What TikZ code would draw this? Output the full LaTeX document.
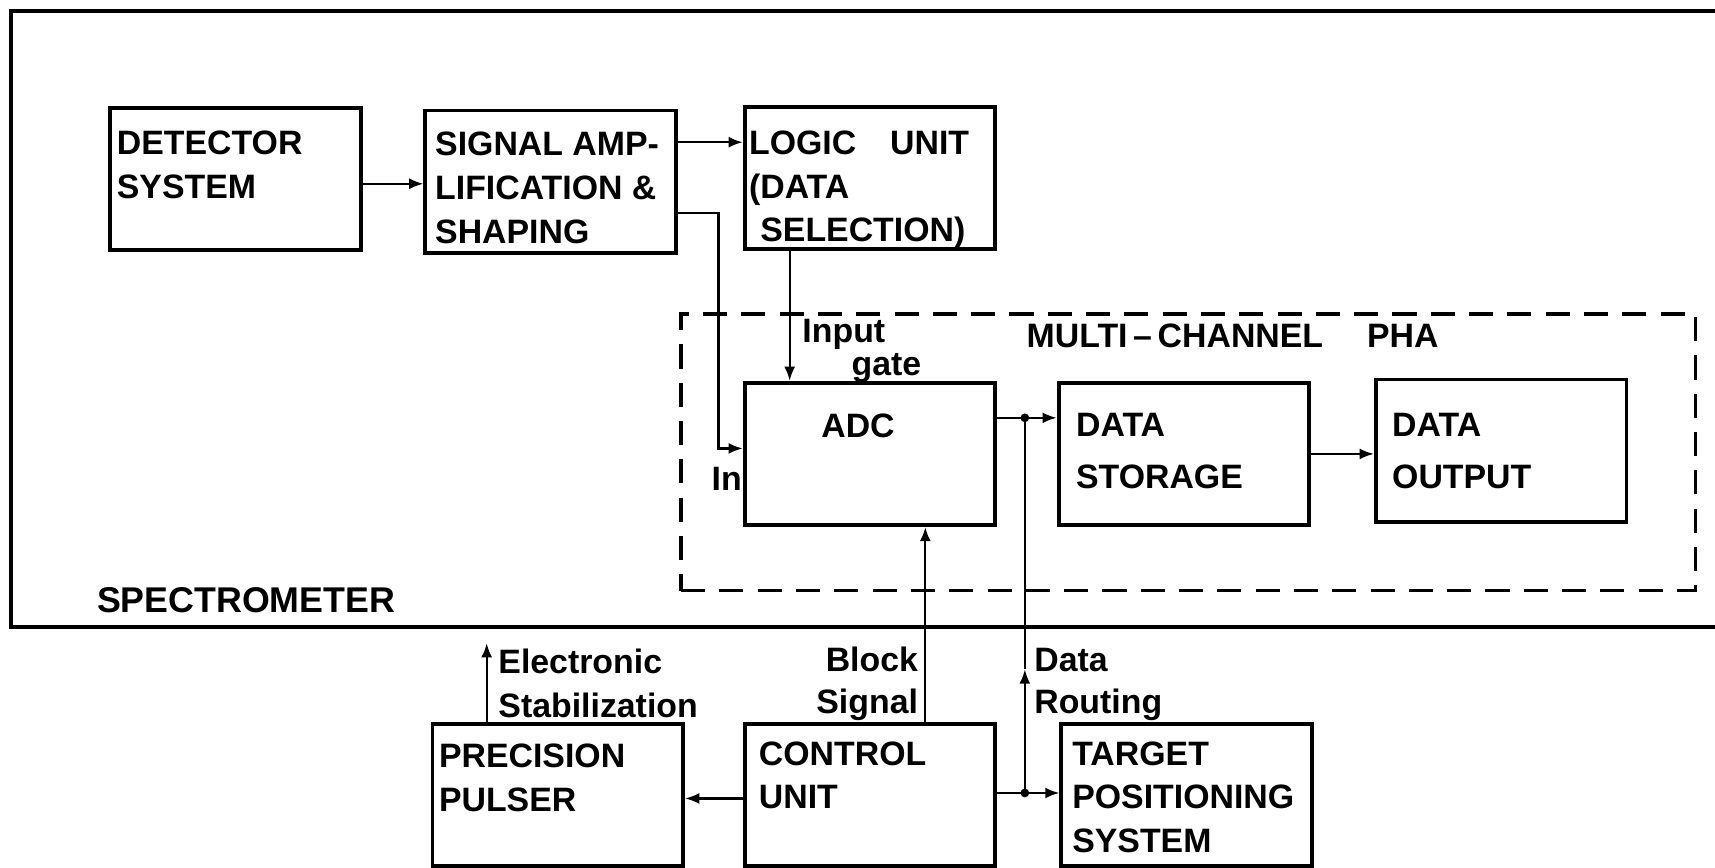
\documentclass[tikz,border=0pt]{standalone}
\usepackage{fontspec}
\setmainfont{Liberation Sans}
\usetikzlibrary{arrows.meta,positioning}
\tikzset{
  box/.style={draw, line width=1pt, minimum width=2.29cm, minimum height=1.3cm, inner sep=0pt},
  boxtxt/.style={inner sep=0pt, align=left, font=\bfseries\fontsize{8.8}{11.4}\selectfont},
  lbl/.style={inner sep=0pt, font=\bfseries\fontsize{8.8}{11}\selectfont},
  arr/.style={line width=0.6pt, -{Latex[length=1.3mm,width=1mm]}},
  dot/.style={circle, fill, inner sep=0pt, minimum size=0.8mm}
}
\begin{document}
\begin{tikzpicture}[x=0.01cm, y=-0.01cm]
  \useasboundingbox (0,0) rectangle (1568,793);
  \draw[line width=1.1pt] (1580,10) -- (10,10) -- (10,573) -- (1580,573);
  \node[draw, line width=0.9pt, dash pattern=on 2.2mm off 1.3mm, minimum width=9.27cm, minimum height=2.53cm] (pha) at (1086.5,413.5) {};
  \foreach \n/\x/\y in {det/215.5/163.5, amp/503.5/166, logic/795.5/162.5,
      adc/795.5/415, store/1082.5/415, out/1372.5/412,
      pulser/510/727, ctrl/795.5/727, target/1085/727}
    {\node[box] (\n) at (\x,\y) {};}
  \node[boxtxt, below right=2.2mm and 0.7mm of det.north west] (det-t) {DETECTOR\\SYSTEM};
  \node[boxtxt, below right=2.1mm and 1.0mm of amp.north west] (amp-t) {SIGNAL AMP-\\LIFICATION \&\\SHAPING};
  \node[boxtxt, below right=2.3mm and 0.5mm of logic.north west] (logic-t) {LOGIC\quad UNIT\\(DATA\\\hphantom{(}SELECTION)};
  \node[boxtxt, below right=2.9mm and 7.1mm of adc.north west] (adc-t) {ADC};
  \node[boxtxt, below right=2.9mm and 1.7mm of store.north west] (store-t) {DATA\\[0.7mm]STORAGE};
  \node[boxtxt, below right=3.2mm and 1.6mm of out.north west] (out-t) {DATA\\[0.7mm]OUTPUT};
  \node[boxtxt, below right=1.9mm and 0.7mm of pulser.north west] (pulser-t) {PRECISION\\PULSER};
  \node[boxtxt, below right=1.7mm and 1.4mm of ctrl.north west] (ctrl-t) {CONTROL\\UNIT};
  \node[boxtxt, below right=1.7mm and 1.1mm of target.north west] (target-t) {TARGET\\POSITIONING\\SYSTEM};
  \coordinate (j1) at (937,382);
  \coordinate (j2) at (937,725);
  \coordinate (ar) at (937,612);
  \coordinate (stab) at (445,588);
  \draw[arr] (det.east |- 0,168) -- (amp.west |- 0,168);
  \draw[arr] (amp.east |- 0,130) -- (logic.west |- 0,130);
  \draw[arr] (amp.east |- 0,195) -- (657,195) -- (657,410) -- (adc.west |- 0,410);
  \draw[arr] (logic.south -| 722,0) -- (adc.north -| 722,0);
  \draw[arr] (adc.east |- j1) -- (store.west |- j1);
  \draw[arr] (store.east) -- (out.west |- store.east);
  \draw[arr] (ctrl.north -| 846,0) -- (adc.south -| 846,0);
  \draw[arr] (ctrl.west |- 0,730) -- (pulser.east |- 0,730);
  \draw[arr] (ctrl.east |- j2) -- (target.west |- j2);
  \draw[arr] (j2) -- (ar);
  \draw[line width=0.6pt] (ar) -- (j1);
  \draw[arr] (pulser.north -| stab) -- (stab);
  \node[dot] (d1) at (j1) {};
  \node[dot] (d2) at (j2) {};
  \node[lbl, anchor=base west] (inp) at (733,313) {Input};
  \node[lbl, anchor=base west] (gate) at (778,343) {gate};
  \node[lbl, anchor=base west] (inl) at (650,448) {In};
  \node[lbl, anchor=base west] (elec) at (455,616) {Electronic};
  \node[lbl, anchor=base west] (stabl) at (455,656) {Stabilization};
  \node[lbl, anchor=base east] (blk) at (840,614) {Block};
  \node[lbl, anchor=base east] (sig) at (840,652) {Signal};
  \node[lbl, anchor=base west] (dat) at (945,614) {Data};
  \node[lbl, anchor=base west] (rout) at (945,652) {Routing};
  \node[lbl, font=\bfseries\fontsize{9.3}{11}\selectfont, anchor=base west] (spec) at (88,560) {SPECTROMETER};
  \node[lbl, anchor=base west] (mcp) at (938,318) {MULTI\,--\,CHANNEL\hspace{1.3em}PHA};
\end{tikzpicture}
\end{document}
